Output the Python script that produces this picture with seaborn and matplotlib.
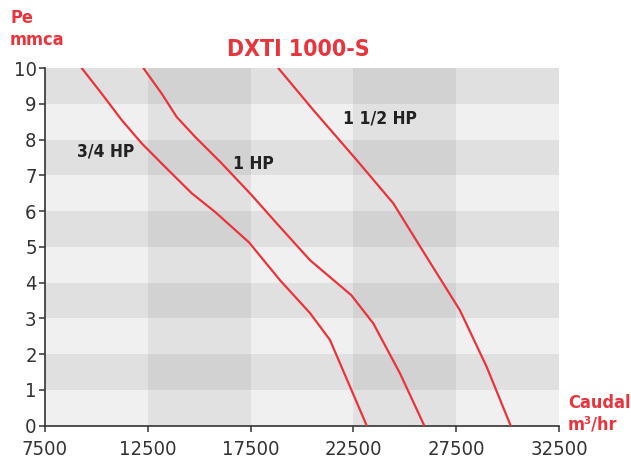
import numpy as np
import pandas as pd
import matplotlib
matplotlib.use("Agg")
import matplotlib.pyplot as plt
import seaborn as sns

sns.set_style("ticks")
plt.rcParams['font.family'] = ['DejaVu Sans']
plt.rcParams['font.stretch'] = 'condensed'

# curve data (caudal m3/hr, pe mmca)
hp34_x = [9290, 10255, 11230, 12200, 13340, 14640, 15770, 17420, 18930, 20390, 21360, 23150]
hp34_y = [10.0, 9.29, 8.55, 7.90, 7.24, 6.50, 5.98, 5.13, 4.07, 3.15, 2.40, 0.0]
hp1_x = [12290, 13175, 13900, 14800, 16090, 17550, 18770, 20390, 22400, 23470, 24770, 25950]
hp1_y = [10.0, 9.29, 8.64, 8.08, 7.34, 6.45, 5.66, 4.63, 3.65, 2.86, 1.46, 0.0]
hp15_x = [18850, 20550, 22660, 24440, 26060, 27680, 28980, 30150]
hp15_y = [10.0, 8.83, 7.43, 6.22, 4.72, 3.23, 1.65, 0.0]

curve_names = ["3/4 HP", "1 HP", "1 1/2 HP"]
label_x = [10450, 17620, 23790]
label_y = [7.67, 7.31, 8.60]

x_ticks = [7500, 12500, 17500, 22500, 27500, 32500]
y_ticks = list(range(0, 11))

RED = "#e8343c"

df = pd.concat([
    pd.DataFrame({"caudal": hp34_x, "pe": hp34_y, "motor": curve_names[0]}),
    pd.DataFrame({"caudal": hp1_x, "pe": hp1_y, "motor": curve_names[1]}),
    pd.DataFrame({"caudal": hp15_x, "pe": hp15_y, "motor": curve_names[2]}),
])

fig = plt.figure(figsize=(6.31, 4.67), dpi=100)
ax = fig.add_axes([0.0713, 0.0884, 0.8146, 0.7656])
ax.set_facecolor("#f0f0f0")

# grey bands: every other row, and two darker columns
for k in range(1, 10, 2):
    ax.axhspan(k, k + 1, color="black", alpha=0.065, lw=0, zorder=0)
for c in [12500, 22500]:
    ax.axvspan(c, c + 5000, color="black", alpha=0.06, lw=0, zorder=0)

sns.lineplot(data=df, x="caudal", y="pe", units="motor", estimator=None,
             sort=False, color=RED, lw=1.6, ax=ax, zorder=3)

for name, lx, ly in zip(curve_names, label_x, label_y):
    ax.text(lx, ly, name, ha="center", va="center", fontsize=12.5,
            fontweight="bold", color="#222222", zorder=4)

ax.set_xlim(7500, 32500)
ax.set_ylim(0, 10)
ax.set_xticks(x_ticks)
ax.set_yticks(y_ticks)
ax.tick_params(axis="both", labelsize=14.5, colors="#333333", length=4, width=1.1)
ax.tick_params(axis="x", pad=6)
ax.tick_params(axis="y", pad=2)
for lbl in ax.get_xticklabels() + ax.get_yticklabels():
    lbl.set_fontweight("light")
ax.set_xlabel("")
ax.set_ylabel("")
for s in ["top", "right"]:
    ax.spines[s].set_visible(False)
for s in ["left", "bottom"]:
    ax.spines[s].set_color("#333333")
    ax.spines[s].set_linewidth(1.2)

fig.text(0.473, 0.895, "DXTI 1000-S", ha="center", va="center", fontsize=16.5,
         fontweight="bold", color=RED)
fig.text(0.016, 0.962, "Pe", ha="left", va="center", fontsize=13,
         fontweight="bold", color=RED)
fig.text(0.016, 0.914, "mmca", ha="left", va="center", fontsize=13,
         fontweight="bold", color=RED)
fig.text(0.900, 0.137, "Caudal", ha="left", va="center", fontsize=13,
         fontweight="bold", color=RED)
fig.text(0.900, 0.091, "m³/hr", ha="left", va="center", fontsize=13,
         fontweight="bold", color=RED)

fig.savefig("out.png", dpi=100, facecolor="white")
